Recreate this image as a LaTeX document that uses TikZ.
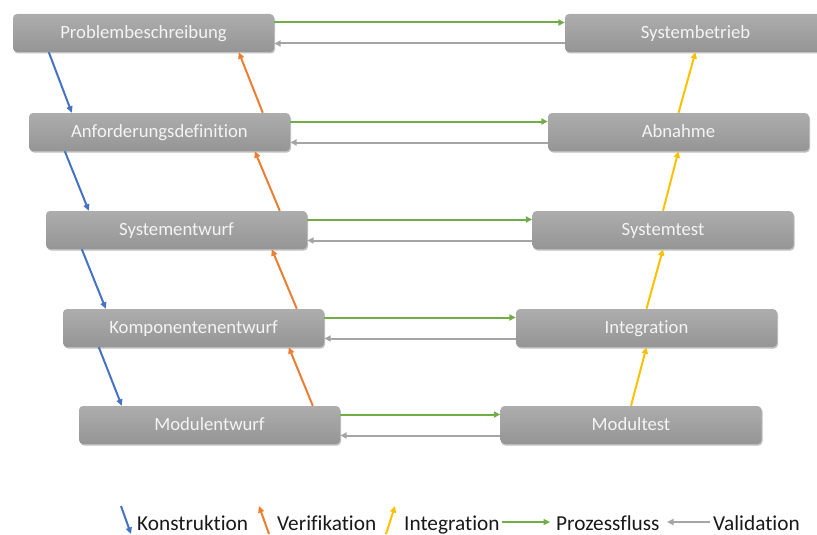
\documentclass[tikz,border=0pt]{standalone}
\usepackage{fontspec}
\setmainfont{Carlito}[Ligatures=NoCommon]
\usetikzlibrary{arrows.meta,calc,shadows}
\definecolor{cblue}{HTML}{4472C4}
\definecolor{corange}{HTML}{ED7D31}
\definecolor{cyellow}{HTML}{FFC000}
\definecolor{cgreen}{HTML}{70AD47}
\definecolor{cgray}{HTML}{A5A5A5}
\definecolor{boxtop}{HTML}{ADADAD}
\definecolor{boxbot}{HTML}{959595}
\definecolor{boxtext}{HTML}{F4F4F4}
\tikzset{
  phase/.style={rectangle, rounded corners=4pt, minimum width=261pt, minimum height=38pt,
    top color=boxtop, bottom color=boxbot, draw=none, text=boxtext,
    font=\fontsize{18.7}{22}\selectfont, inner sep=0pt, text height=14pt, text depth=2.2pt,
    drop shadow={shadow xshift=1pt, shadow yshift=-1.5pt, opacity=0.25, fill=black}},
  tipa/.style={-{Triangle[length=6.5pt,width=6pt]}},
  arr/.style={tipa, line width=2pt},
  legtext/.style={anchor=base west, inner sep=0pt, font=\fontsize{21.3}{24}\selectfont, text=black!90}
}
\begin{document}
\begin{tikzpicture}[x=1pt,y=-1pt]
\useasboundingbox (0,0) rectangle (817,535);
% left column
\node[phase] (L1) at (143.5,33) {Problembeschreibung};
\node[phase] (L2) at (159.5,132) {Anforderungsdefinition};
\node[phase] (L3) at (176.5,230) {Systementwurf};
\node[phase] (L4) at (193.5,328) {Komponentenentwurf};
\node[phase] (L5) at (209.5,425) {Modulentwurf};
% right column
\node[phase] (R1) at (695.5,33) {Systembetrieb};
\node[phase] (R2) at (678.5,132) {Abnahme};
\node[phase] (R3) at (663,230) {Systemtest};
\node[phase] (R4) at (646.5,328) {Integration};
\node[phase] (R5) at (631,425) {Modultest};
% horizontal arrows
\foreach \i in {1,...,5}{
  \draw[arr, cgreen] ($(L\i.east)+(0,-10.5)$) -- ($(R\i.west)+(0,-10.5)$);
  \draw[arr, cgray] ($(R\i.west)+(0,10.5)$) -- ($(L\i.east)+(0,10.5)$);
}
% construction, verification, integration
\foreach \i/\j in {1/2,2/3,3/4,4/5}{
  \draw[arr, cblue] ($(L\i.south west)+(36,0)$) -- ($(L\j.north west)+(43,0)$);
  \draw[arr, corange] ($(L\j.north west)+(234,0)$) -- ($(L\i.south west)+(226,0)$);
  \draw[arr, cyellow] (R\j.north) -- (R\i.south);
}
% legend
\coordinate (kb1) at (121,506); \coordinate (kb2) at (131,534);
\coordinate (vo1) at (269,534); \coordinate (vo2) at (259,506);
\coordinate (iy1) at (386,534); \coordinate (iy2) at (395,506);
\coordinate (pg1) at (502,522); \coordinate (pg2) at (550,522);
\coordinate (va1) at (710,522); \coordinate (va2) at (667,522);
\draw[arr, cblue] (kb1) -- (kb2);
\draw[arr, corange] (vo1) -- (vo2);
\draw[arr, cyellow] (iy1) -- (iy2);
\draw[arr, cgreen] (pg1) -- (pg2);
\draw[arr, cgray] (va1) -- (va2);
\node[legtext] (t1) at (137,530) {Konstruktion};
\node[legtext] (t2) at (277,530) {Verifikation};
\node[legtext] (t3) at (404,530) {Integration};
\node[legtext] (t4) at (556,530) {Prozessfluss};
\node[legtext] (t5) at (713,530) {Validation};
\end{tikzpicture}
\end{document}
